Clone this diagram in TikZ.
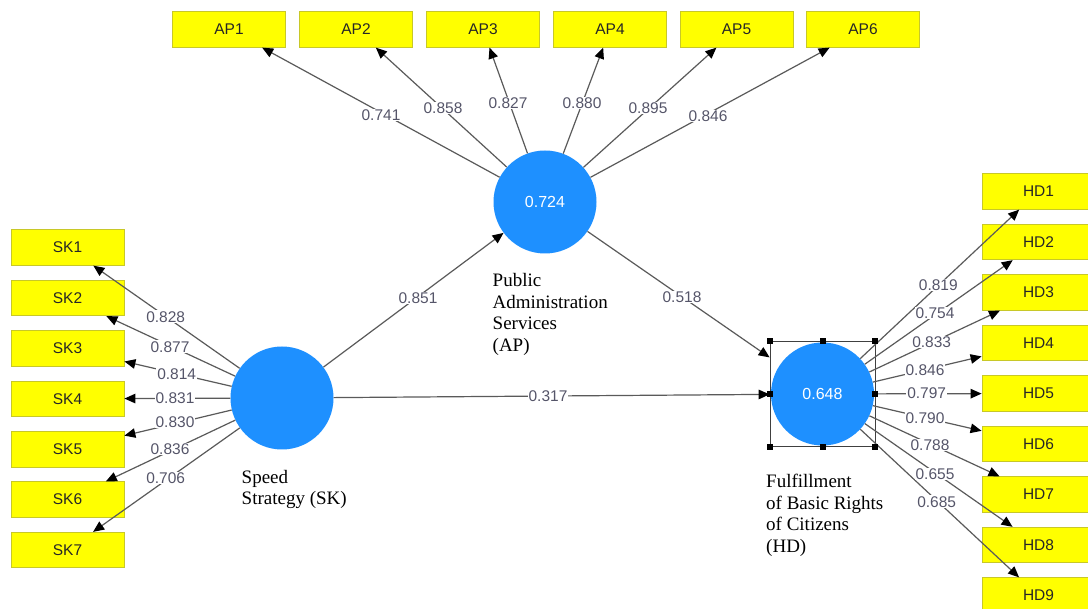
\documentclass[tikz,border=0pt]{standalone}
\usepackage{fontspec}
\setmainfont{Liberation Serif}
\newfontfamily\lsans{Liberation Sans}
\usetikzlibrary{arrows.meta}
\definecolor{lvblue}{RGB}{30,144,255}
\definecolor{mvyellow}{RGB}{255,255,0}
\definecolor{mvborder}{RGB}{200,200,40}
\definecolor{pathgray}{RGB}{90,90,90}
\definecolor{labelgray}{RGB}{85,85,105}
\begin{document}
\begin{tikzpicture}[x=1pt,y=-1pt,
 mv/.style={draw=mvborder, line width=0.8pt, fill=mvyellow, minimum width=113pt, minimum height=35.5pt, inner sep=0pt, font=\lsans\fontsize{15.5}{16}\selectfont, text=black!85},
 lv/.style={circle, fill=lvblue, minimum size=103pt, inner sep=0pt, font=\lsans\fontsize{16}{17}\selectfont, text=white},
 selbox/.style={draw=black!75, line width=0.8pt, minimum size=105pt, inner sep=0pt},
 conn/.style={draw=pathgray, line width=1.2pt, -{Triangle[length=11pt,width=9.5pt,color=black]}},
 coef/.style={fill=white, inner sep=1pt, font=\lsans\fontsize{15.5}{16}\selectfont, text=labelgray},
 lvname/.style={anchor=north west, inner sep=0pt, align=left, font=\fontsize{19}{21.5}\selectfont},
]
\useasboundingbox (0,0) rectangle (1088,609);
\clip (0,0) rectangle (1088,609);
\fill[white] (0,0) rectangle (1088,609);

% latent variables
\node[lv] (sk) at (282,398) {};
\node[lv] (ap) at (545,202) {0.724};
\node[lv] (hd) at (822.5,394) {0.648};
\node[selbox] (hdsel) at (822.5,394) {};

% indicators
\foreach \i/\x in {1/229,2/356,3/483,4/610,5/736.5,6/863}
  \node[mv] (ap\i) at (\x,29.5) {AP\i};
\foreach \i/\y in {1/247.5,2/298,3/348.3,4/398.8,5/449.2,6/499.6,7/550}
  \node[mv] (sk\i) at (67.5,\y) {SK\i};
\foreach \i/\y in {1/191.5,2/242,3/292.5,4/343,5/393.5,6/444,7/494.5,8/545,9/595.5}
  \node[mv] (hd\i) at (1038.5,\y) {HD\i};

% connectors
\foreach \i in {1,...,6} \draw[conn] (ap) -- (ap\i);
\foreach \i in {1,...,7} \draw[conn] (sk) -- (sk\i);
\foreach \i in {1,...,9} \draw[conn] (hd) -- (hd\i);
\draw[conn] (sk) -- (ap);
\draw[conn] (ap) -- (hdsel);
\draw[conn] (sk) -- (hdsel);

% selection handles
\foreach \a in {north west,north,north east,east,south east,south,south west,west}
  \fill[black] (hdsel.\a) ++(-3,-3) rectangle ++(6,6);

% coefficients
\node[coef] (cap1) at (381,115) {0.741};
\node[coef] (cap2) at (443,108) {0.858};
\node[coef] (cap3) at (508,103) {0.827};
\node[coef] (cap4) at (582,103) {0.880};
\node[coef] (cap5) at (648,108) {0.895};
\node[coef] (cap6) at (708,116) {0.846};

\node[coef] (csk1) at (165.7,316.7) {0.828};
\node[coef] (csk2) at (170,346.7) {0.877};
\node[coef] (csk3) at (176.7,374) {0.814};
\node[coef] (csk4) at (175,398.3) {0.831};
\node[coef] (csk5) at (175,422) {0.830};
\node[coef] (csk6) at (170,449) {0.836};
\node[coef] (csk7) at (165.7,478) {0.706};

\node[coef] (chd1) at (938.3,285) {0.819};
\node[coef] (chd2) at (935,313) {0.754};
\node[coef] (chd3) at (931.7,342) {0.833};
\node[coef] (chd4) at (925,370) {0.846};
\node[coef] (chd5) at (926.7,393) {0.797};
\node[coef] (chd6) at (925,418.3) {0.790};
\node[coef] (chd7) at (930,445) {0.788};
\node[coef] (chd8) at (935,474) {0.655};
\node[coef] (chd9) at (936.7,501.7) {0.685};

\node[coef] (csa) at (418,298) {0.851};
\node[coef] (cah) at (682,297) {0.518};
\node[coef] (csh) at (548,396) {0.317};

% latent variable names
\node[lvname] (nap) at (492.5,273.5) {Public\\Administration\\Services\\(AP)};
\node[lvname] (nsk) at (241.5,470) {Speed\\Strategy (SK)};
\node[lvname] (nhd) at (766,474) {Fulfillment\\of Basic Rights\\of Citizens\\(HD)};
\end{tikzpicture}
\end{document}
